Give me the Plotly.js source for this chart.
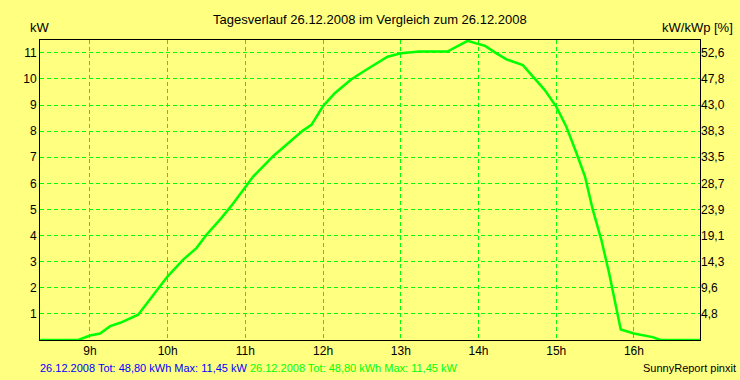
<!DOCTYPE html>
<html><head><meta charset="utf-8">
<script src="https://cdn.plot.ly/plotly-3.0.1.min.js"></script>
<style>html,body{margin:0;padding:0;background:#FFFF80;}</style>
</head><body>
<div id="chart" style="width:740px;height:380px;"></div>
<script>
const hours = [8.36,8.85,9.0,9.13,9.26,9.39,9.62,9.72,9.90,10.0,10.2,10.37,10.5,10.69,10.84,10.99,11.10,11.36,11.55,11.74,11.85,12.0,12.15,12.36,12.55,12.83,13.0,13.24,13.60,13.86,13.97,14.08,14.23,14.36,14.57,14.70,14.85,15.0,15.13,15.26,15.37,15.47,15.58,15.68,15.79,15.83,16.0,16.24,16.34,16.85];
const kw    = [0,0,0.17,0.25,0.53,0.66,0.97,1.36,2.06,2.44,3.08,3.52,4.03,4.67,5.22,5.82,6.26,7.05,7.54,8.02,8.24,8.96,9.45,9.98,10.34,10.85,10.98,11.05,11.05,11.46,11.36,11.27,10.98,10.75,10.53,10.08,9.58,8.94,8.17,7.16,6.26,4.99,3.84,2.57,1.04,0.40,0.25,0.11,0,0];
const xTickVals = [9,10,11,12,13,14,15,16];
const xTickText = ['9h','10h','11h','12h','13h','14h','15h','16h'];
const yTickVals = [1,2,3,4,5,6,7,8,9,10,11];
const yTickText = ['1','2','3','4','5','6','7','8','9','10','11'];
const y2TickText = ['4,8','9,6','14,3','19,1','23,9','28,7','33,5','38,3','43,0','47,8','52,6'];

const fam = 'Liberation Sans, Arial, sans-serif';
const font = {family:fam, size:12, color:'#000'};
const font13 = {family:fam, size:13, color:'#000'};
const font11 = {family:fam, size:11, color:'#000'};
const traces = [
  {x:hours, y:kw, type:'scatter', mode:'lines', line:{color:'#00FF00', width:2.5}, hoverinfo:'skip', showlegend:false},
  {x:[hours[0]], y:[0], yaxis:'y2', type:'scatter', mode:'none', showlegend:false, hoverinfo:'skip'}
];
const layout = {
  width:740, height:380,
  paper_bgcolor:'#FFFF80', plot_bgcolor:'#FFFF80',
  margin:{l:40, r:40, t:40, b:40},
  font:font,
  showlegend:false,
  xaxis:{range:[8.357,16.85], tickvals:xTickVals, ticktext:xTickText, showgrid:true,
         gridcolor:'#00FF00', griddash:'4px,3px', gridwidth:1, zeroline:false,
         showline:true, linecolor:'#000', linewidth:1, mirror:true, ticks:'', ticklen:0, tickfont:font},
  yaxis:{range:[0,11.49], tickvals:yTickVals, ticktext:yTickText, showgrid:true,
         gridcolor:'#00FF00', griddash:'4px,3px', gridwidth:1, zeroline:false,
         showline:true, linecolor:'#000', linewidth:1, mirror:true, ticks:'', tickfont:font},
  yaxis2:{range:[0,11.49], overlaying:'y', side:'right', tickvals:yTickVals, ticktext:y2TickText,
          showgrid:false, zeroline:false, showline:false, ticks:'', tickfont:font},
  annotations:[
    {text:'Tagesverlauf 26.12.2008 im Vergleich zum 26.12.2008', xref:'paper', yref:'paper', x:0.5, y:1, yshift:21, xanchor:'center', yanchor:'middle', showarrow:false, font:font13},
    {text:'kW', xref:'paper', yref:'paper', x:0, y:1, xanchor:'center', yanchor:'middle', yshift:13, showarrow:false, font:font13},
    {text:'kW/kWp [%]', xref:'paper', yref:'paper', x:1, y:1, xanchor:'right', yanchor:'middle', xshift:35, yshift:13, showarrow:false, font:font13},
    {text:'<span style="color:#0000FF">26.12.2008 Tot: 48,80 kWh Max: 11,45 kW</span> <span style="color:#00FF00">26.12.2008 Tot: 48,80 kWh Max: 11,45 kW</span>', xref:'paper', yref:'paper', x:0, y:0, xanchor:'left', yanchor:'middle', xshift:-2, yshift:-28, showarrow:false, font:font11},
    {text:'SunnyReport pinxit', xref:'paper', yref:'paper', x:1, y:0, xanchor:'right', yanchor:'middle', xshift:38, yshift:-28, showarrow:false, font:font11}
  ]
};
Plotly.newPlot('chart', traces, layout, {staticPlot:true, displayModeBar:false});
</script>
</body></html>
